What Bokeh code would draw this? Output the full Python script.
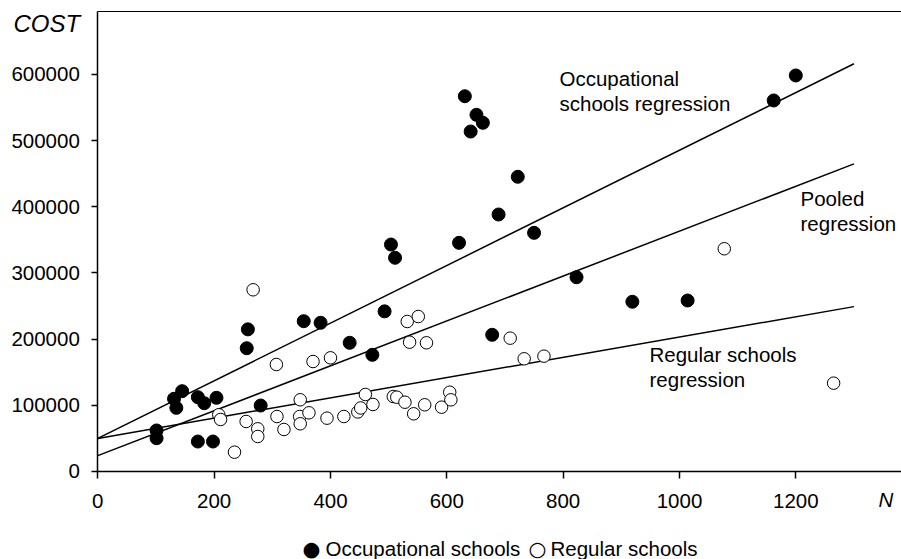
from bokeh.plotting import figure
from bokeh.models import Range1d, FixedTicker, Label, LinearAxis
from bokeh.embed import file_html
from bokeh.resources import INLINE

# ---- data ----
occ_n = [101, 101, 131, 135, 145, 172, 183, 204, 172, 198, 256, 258, 280, 354, 383, 433, 472,
         493, 504, 511, 621, 631, 641, 651, 662, 678, 689, 722, 750, 823, 919, 1014, 1162, 1200]
occ_cost = [62000, 50300, 109900, 96200, 121400, 112300, 103200, 111400, 45300, 45300, 186300,
            214800, 99700, 227200, 224700, 194500, 176300, 242000, 343000, 323000, 345600, 567100,
            513800, 539000, 527000, 206600, 388400, 445400, 360700, 293600, 256500, 258400,
            560700, 598500]

reg_n = [235, 208, 211, 255, 267, 275, 275, 307, 308, 320, 348, 347, 363, 348, 370, 400, 394,
         423, 447, 452, 460, 473, 508, 514, 528, 532, 551, 536, 565, 543, 562, 591, 605, 607,
         709, 733, 767, 1077, 1265]
reg_cost = [29200, 85700, 78600, 75600, 274600, 64500, 52900, 161700, 83100, 63500, 108400,
            83100, 88700, 72100, 166200, 171800, 80600, 83100, 90000, 96000, 116400, 101300,
            113300, 112300, 104700, 226700, 234200, 195400, 194500, 87200, 100800, 97200,
            119800, 108300, 201500, 170300, 174300, 336600, 133500]

line_names = ["Occupational schools regression", "Pooled regression", "Regular schools regression"]
line_intercepts = [50000, 24000, 50000]
line_slopes = [435.5, 339.2, 153.2]
line_n = [0, 1300]

x_ticks = [0, 200, 400, 600, 800, 1000, 1200]
y_ticks = [0, 100000, 200000, 300000, 400000, 500000, 600000]
y_tick_labels = ["0", "100000", "200000", "300000", "400000", "500000", "600000"]

legend_labels = ["Occupational schools", "Regular schools"]

FONT = "Liberation Sans"
FS = "20.5px"

X_END = 1381.7
Y_TOP = 695200

p = figure(width=901, height=559, output_backend="svg", toolbar_location=None,
           x_range=Range1d(-167.3, X_END), y_range=Range1d(-133000, 711800),
           min_border_left=0, min_border_right=0, min_border_top=0, min_border_bottom=0)
p.grid.visible = False
p.background_fill_color = "white"
p.border_fill_color = "white"
p.outline_line_color = None

for a, b in zip(line_intercepts, line_slopes):
    p.line(line_n, [a + b * n for n in line_n], line_color="black", line_width=1.5)

p.scatter(occ_n, occ_cost, size=13, fill_color="black", line_color="black", line_width=1)
p.scatter(reg_n, reg_cost, size=12.5, fill_color="white", line_color="black", line_width=1)

xa = p.below[0]
ya = p.left[0]

for ax in (xa, ya):
    ax.fixed_location = 0
    ax.axis_line_width = 1.5
    ax.axis_line_color = "black"
    ax.major_tick_line_width = 1.5
    ax.major_tick_line_color = "black"
    ax.major_tick_in = 0
    ax.minor_tick_in = 0
    ax.minor_tick_out = 0
    ax.major_label_text_font = FONT
    ax.major_label_text_font_size = FS
    ax.major_label_text_color = "black"

xa.bounds = (0, X_END)
xa.ticker = FixedTicker(ticks=x_ticks)
xa.major_tick_out = 7
xa.major_label_standoff = 16

ya.bounds = (0, Y_TOP)
ya.ticker = FixedTicker(ticks=y_ticks)
ya.major_label_overrides = {t: s for t, s in zip(y_ticks, y_tick_labels)}
ya.major_tick_out = 6
ya.major_label_standoff = 12

top = LinearAxis(fixed_location=Y_TOP, bounds=(0, X_END), ticker=FixedTicker(ticks=[]),
                 major_tick_in=0, major_tick_out=0, minor_tick_in=0, minor_tick_out=0,
                 major_label_text_font_size="0px", axis_line_width=1, axis_line_color="black")
p.add_layout(top, "above")


def lab(x, y, text, size=FS, style="normal", align="left", font=FONT):
    p.add_layout(Label(x=x, y=y, x_units="screen", y_units="screen", text=text,
                       text_font=font, text_font_size=size, text_font_style=style,
                       text_color="black", text_baseline="alphabetic", text_align=align))


lab(13, 536, "COST", size="24px", style="italic")
lab(878, 60, "N", style="italic")

lab(559, 481, "Occupational")
lab(559, 456, "schools regression")
lab(800, 361, "Pooled")
lab(800, 336, "regression")
lab(649, 205, "Regular schools")
lab(649, 180.5, "regression")

# legend below the axis
lab(311, 11, "\u25cf", align="center", font="DejaVu Sans")
lab(325, 11, legend_labels[0])
lab(537, 11, "\u25cb", align="center", font="DejaVu Sans")
lab(550, 11, legend_labels[1])

open("out.html", "w").write(file_html(p, INLINE))
